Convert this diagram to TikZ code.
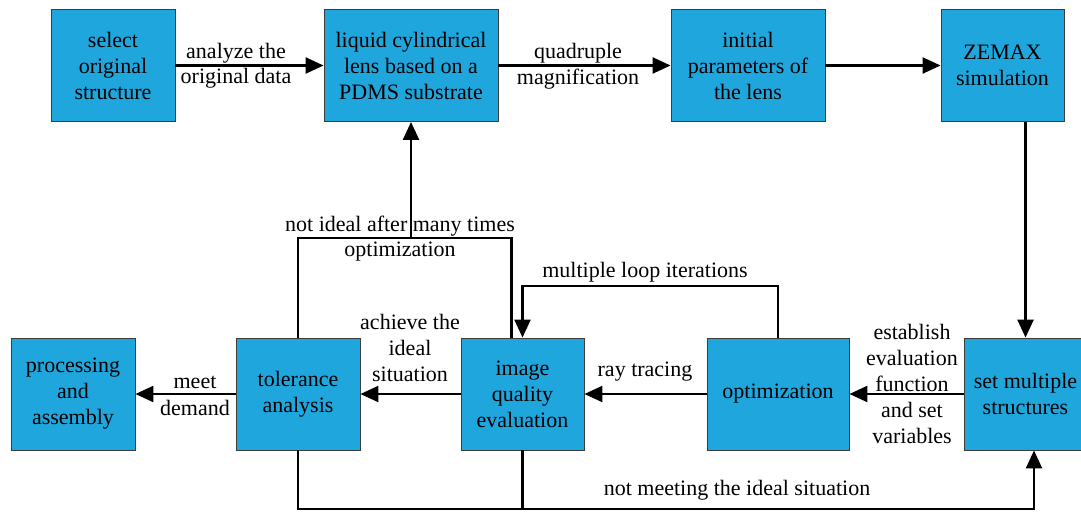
\documentclass[tikz,border=0pt]{standalone}
\usepackage{fontspec}
\setmainfont{Liberation Serif}
\usetikzlibrary{arrows.meta}
\definecolor{boxblue}{RGB}{31,166,221}
\definecolor{boxedge}{RGB}{60,60,60}
\tikzset{
  stagebox/.style={draw=boxedge, line width=0.9pt, fill=boxblue, align=center,
    minimum height=112pt, inner sep=2pt, font=\fontsize{22}{26}\selectfont},
  flow/.style={line width=2.4pt, -{Triangle[length=18pt,width=16pt]}},
  wire/.style={line width=2.4pt},
  note/.style={align=center, inner sep=0pt, font=\fontsize{22}{26}\selectfont}
}
\begin{document}
\begin{tikzpicture}[x=1pt,y=1pt]
\clip (0,0) rectangle (1081,-513);
\fill[white] (0,0) rectangle (1081,-513);

% top row
\node[stagebox, minimum width=124pt] (sel) at (113,-65.5) {select\\original\\structure};
\node[stagebox, minimum width=174pt] (liq) at (411,-65.5) {liquid cylindrical\\lens based on a\\PDMS substrate};
\node[stagebox, minimum width=154pt] (ini) at (748,-65.5) {initial\\parameters of\\the lens};
\node[stagebox, minimum width=123pt] (zem) at (1002.5,-65.5) {ZEMAX\\simulation};

% bottom row
\node[stagebox, minimum width=124pt] (pro) at (73,-394) {processing\\and\\assembly};
\node[stagebox, minimum width=124pt] (tol) at (298,-394) {tolerance\\analysis};
\node[stagebox, minimum width=123pt] (img) at (522.5,-394) {image\\quality\\evaluation};
\node[stagebox, minimum width=142pt] (opt) at (778,-394) {optimization};
\node[stagebox, minimum width=123pt] (set) at (1025.5,-394) {set multiple\\structures};

% forward flow along the top
\draw[flow] (sel) -- (liq);
\draw[flow] (liq) -- (ini);
\draw[flow] (ini) -- (zem);
\draw[flow] (set.north |- zem.south) -- (set.north);

% flow along the bottom
\draw[flow] (set) -- (opt);
\draw[flow] (opt) -- (img);
\draw[flow] (img) -- (tol);
\draw[flow] (tol) -- (pro);

% iteration loop
\draw[flow] (opt.north) |- (522.5,-286) -- (img.north);

% back to the lens design
\coordinate (ret) at (liq.south |- 0,-238);
\draw[wire] (tol.north) |- (ret) -| ([xshift=-11pt]img.north);
\draw[flow] (ret) -- (liq.south);

% failure path back to the structures
\coordinate (base) at (tol.south |- 0,-509);
\draw[wire] (img.south) -- (img.south |- base);
\draw[flow] (tol.south) -- (base) -| ([xshift=8.5pt]set.south);

% labels
\node[note] (l1) at (236,-53) {analyze the};
\node[note] (l2) at (236,-78) {original data};
\node[note] (l3) at (578,-53) {quadruple};
\node[note] (l4) at (578,-79) {magnification};
\node[note] (l5) at (195,-382) {meet};
\node[note] (l6) at (195,-408) {demand};
\node[note] (l7) at (645,-372) {ray tracing};
\node[note] (l8) at (645,-272) {multiple loop iterations};
\node[note] (l9) at (410,-348) {achieve the\\ideal\\situation};
\node[note] (l10) at (912,-384) {establish\\evaluation\\function\\and set\\variables};
\node[note] (l11) at (400,-226) {not ideal after many times};
\node[note] (l12) at (400,-252) {optimization};
\node[note] (l13) at (737,-490) {not meeting the ideal situation};
\end{tikzpicture}
\end{document}
